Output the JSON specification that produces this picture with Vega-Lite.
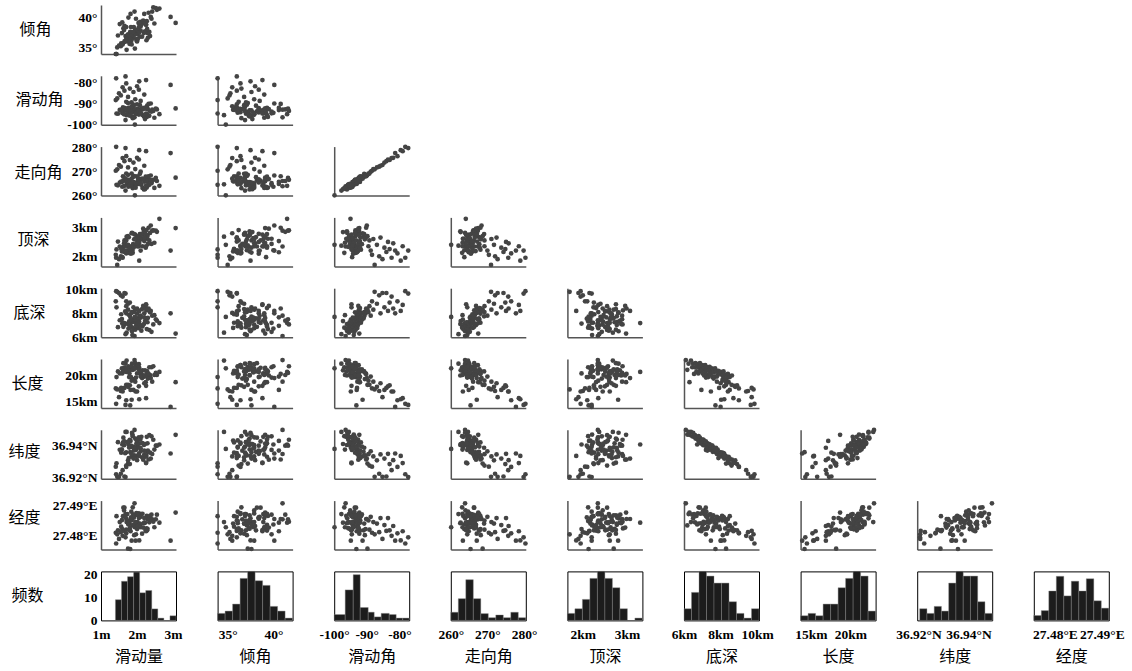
{
  "$schema": "https://vega.github.io/schema/vega-lite/v6.json",
  "background": "white",
  "padding": {"left": 7, "top": 5, "right": 5, "bottom": 4},
  "bounds": "flush",
  "columns": 9,
  "spacing": {"row": 21.8, "column": 41.6},
  "config": {
    "view": {"stroke": null},
    "axis": {
      "grid": false, "ticks": false, "labels": false,
      "domainColor": "#555", "domainWidth": 1.5,
      "labelFont": "Liberation Serif", "labelFontWeight": "bold", "labelFontSize": 13.5, "labelColor": "#000",
      "labelFlush": false, "labelOverlap": false, "labelBound": false, "labelPadding": 4,
      "titleFont": "Noto Sans CJK SC", "titleFontWeight": "normal", "titleFontSize": 16, "titleColor": "#000"
    },
    "point": {"filled": true, "color": "#444", "size": 22, "opacity": 1}
  },
  "datasets": {
    "s": [
      {"slip":1.93,"dip":41.0,"rake":-96.5,"strike":263.9,"top":2.34,"bottom":6.10,"len":23.0,"lat":36.9494,"lon":27.4906},
      {"slip":1.87,"dip":37.1,"rake":-94.0,"strike":264.5,"top":2.21,"bottom":6.18,"len":21.1,"lat":36.9466,"lon":27.4834},
      {"slip":1.68,"dip":36.9,"rake":-97.8,"strike":262.1,"top":2.37,"bottom":6.25,"len":22.3,"lat":36.9482,"lon":27.4871},
      {"slip":3.07,"dip":39.1,"rake":-92.3,"strike":267.5,"top":2.98,"bottom":6.30,"len":18.7,"lat":36.9464,"lon":27.4876},
      {"slip":1.71,"dip":34.6,"rake":-95.5,"strike":264.7,"top":2.68,"bottom":6.38,"len":22.9,"lat":36.9482,"lon":27.4845},
      {"slip":2.40,"dip":39.8,"rake":-93.8,"strike":265.2,"top":2.43,"bottom":6.45,"len":21.6,"lat":36.9455,"lon":27.4869},
      {"slip":1.86,"dip":37.5,"rake":-96.0,"strike":263.9,"top":2.81,"bottom":6.50,"len":22.3,"lat":36.9477,"lon":27.4857},
      {"slip":2.12,"dip":38.9,"rake":-94.6,"strike":264.5,"top":2.59,"bottom":6.55,"len":20.3,"lat":36.9452,"lon":27.4871},
      {"slip":2.34,"dip":37.6,"rake":-95.8,"strike":264.5,"top":2.55,"bottom":6.60,"len":21.6,"lat":36.9462,"lon":27.4844},
      {"slip":1.95,"dip":37.4,"rake":-93.4,"strike":265.0,"top":2.75,"bottom":6.63,"len":22.4,"lat":36.9441,"lon":27.4867},
      {"slip":2.27,"dip":39.4,"rake":-96.3,"strike":263.4,"top":2.61,"bottom":6.68,"len":20.8,"lat":36.9452,"lon":27.4865},
      {"slip":1.76,"dip":40.0,"rake":-94.4,"strike":263.7,"top":2.21,"bottom":6.72,"len":21.8,"lat":36.9405,"lon":27.4837},
      {"slip":2.05,"dip":37.9,"rake":-95.2,"strike":264.9,"top":2.35,"bottom":6.75,"len":22.2,"lat":36.9449,"lon":27.4873},
      {"slip":1.79,"dip":35.6,"rake":-92.9,"strike":266.0,"top":2.17,"bottom":6.78,"len":20.4,"lat":36.9429,"lon":27.4840},
      {"slip":1.88,"dip":36.5,"rake":-96.9,"strike":263.1,"top":2.12,"bottom":6.80,"len":21.6,"lat":36.9456,"lon":27.4893},
      {"slip":1.47,"dip":37.0,"rake":-94.8,"strike":264.3,"top":2.51,"bottom":6.84,"len":20.8,"lat":36.9419,"lon":27.4818},
      {"slip":1.62,"dip":38.2,"rake":-93.7,"strike":266.4,"top":2.34,"bottom":6.87,"len":22.4,"lat":36.9447,"lon":27.4892},
      {"slip":2.15,"dip":39.3,"rake":-95.4,"strike":263.2,"top":2.35,"bottom":6.90,"len":21.0,"lat":36.9413,"lon":27.4872},
      {"slip":1.99,"dip":36.1,"rake":-94.3,"strike":265.2,"top":2.57,"bottom":6.92,"len":21.8,"lat":36.9430,"lon":27.4841},
      {"slip":1.82,"dip":40.6,"rake":-93.1,"strike":264.9,"top":2.14,"bottom":6.95,"len":17.2,"lat":36.9427,"lon":27.4815},
      {"slip":1.80,"dip":37.3,"rake":-95.7,"strike":264.5,"top":2.33,"bottom":6.98,"len":21.1,"lat":36.9434,"lon":27.4825},
      {"slip":1.98,"dip":36.4,"rake":-94.1,"strike":264.9,"top":2.37,"bottom":7.00,"len":22.0,"lat":36.9409,"lon":27.4874},
      {"slip":2.09,"dip":39.3,"rake":-92.7,"strike":266.9,"top":2.77,"bottom":7.02,"len":20.4,"lat":36.9435,"lon":27.4836},
      {"slip":1.64,"dip":37.9,"rake":-95.1,"strike":264.0,"top":2.45,"bottom":7.05,"len":21.4,"lat":36.9401,"lon":27.4883},
      {"slip":2.45,"dip":41.7,"rake":-93.5,"strike":266.6,"top":2.90,"bottom":7.07,"len":21.8,"lat":36.9434,"lon":27.4846},
      {"slip":2.19,"dip":37.4,"rake":-96.1,"strike":262.6,"top":2.87,"bottom":7.10,"len":20.0,"lat":36.9402,"lon":27.4841},
      {"slip":1.73,"dip":37.0,"rake":-93.9,"strike":265.6,"top":2.34,"bottom":7.12,"len":21.3,"lat":36.9420,"lon":27.4871},
      {"slip":1.59,"dip":39.2,"rake":-94.5,"strike":263.7,"top":1.97,"bottom":7.14,"len":20.4,"lat":36.9405,"lon":27.4822},
      {"slip":2.02,"dip":36.4,"rake":-92.5,"strike":267.4,"top":2.34,"bottom":7.16,"len":22.0,"lat":36.9416,"lon":27.4871},
      {"slip":2.62,"dip":41.5,"rake":-95.0,"strike":264.1,"top":3.30,"bottom":7.18,"len":20.7,"lat":36.9405,"lon":27.4843},
      {"slip":1.65,"dip":38.6,"rake":-93.3,"strike":266.3,"top":2.55,"bottom":7.19,"len":21.5,"lat":36.9424,"lon":27.4892},
      {"slip":1.97,"dip":39.8,"rake":-94.6,"strike":264.5,"top":2.61,"bottom":7.20,"len":19.6,"lat":36.9372,"lon":27.4805},
      {"slip":1.61,"dip":35.7,"rake":-91.8,"strike":268.1,"top":2.23,"bottom":7.21,"len":20.9,"lat":36.9418,"lon":27.4864},
      {"slip":1.84,"dip":36.1,"rake":-93.8,"strike":264.7,"top":2.20,"bottom":7.22,"len":21.7,"lat":36.9391,"lon":27.4879},
      {"slip":2.29,"dip":37.4,"rake":-95.3,"strike":264.3,"top":2.72,"bottom":7.25,"len":20.1,"lat":36.9412,"lon":27.4823},
      {"slip":1.91,"dip":38.4,"rake":-92.2,"strike":265.7,"top":2.78,"bottom":7.28,"len":21.2,"lat":36.9368,"lon":27.4859},
      {"slip":2.06,"dip":39.1,"rake":-94.0,"strike":266.0,"top":2.46,"bottom":7.30,"len":21.5,"lat":36.9411,"lon":27.4829},
      {"slip":1.78,"dip":36.1,"rake":-93.6,"strike":265.4,"top":2.12,"bottom":7.32,"len":19.7,"lat":36.9386,"lon":27.4848},
      {"slip":2.22,"dip":37.7,"rake":-97.3,"strike":262.7,"top":2.84,"bottom":7.35,"len":21.0,"lat":36.9408,"lon":27.4843},
      {"slip":2.55,"dip":41.3,"rake":-92.8,"strike":266.1,"top":2.85,"bottom":7.38,"len":20.1,"lat":36.9398,"lon":27.4869},
      {"slip":2.01,"dip":37.2,"rake":-94.4,"strike":265.7,"top":2.38,"bottom":7.40,"len":21.7,"lat":36.9406,"lon":27.4845},
      {"slip":1.52,"dip":38.9,"rake":-93.0,"strike":265.4,"top":2.34,"bottom":7.42,"len":20.4,"lat":36.9373,"lon":27.4845},
      {"slip":1.89,"dip":36.9,"rake":-91.5,"strike":267.8,"top":2.42,"bottom":7.45,"len":21.2,"lat":36.9392,"lon":27.4870},
      {"slip":1.96,"dip":37.9,"rake":-94.9,"strike":263.3,"top":2.61,"bottom":7.47,"len":16.9,"lat":36.9385,"lon":27.4784},
      {"slip":2.52,"dip":41.6,"rake":-92.4,"strike":267.4,"top":2.89,"bottom":7.50,"len":20.5,"lat":36.9398,"lon":27.4854},
      {"slip":1.58,"dip":37.4,"rake":-93.2,"strike":265.7,"top":2.17,"bottom":7.52,"len":21.4,"lat":36.9375,"lon":27.4851},
      {"slip":1.83,"dip":38.4,"rake":-94.2,"strike":265.5,"top":2.09,"bottom":7.55,"len":19.7,"lat":36.9398,"lon":27.4860},
      {"slip":2.28,"dip":38.1,"rake":-91.0,"strike":267.7,"top":2.67,"bottom":7.57,"len":20.8,"lat":36.9360,"lon":27.4818},
      {"slip":2.04,"dip":39.1,"rake":-93.5,"strike":266.6,"top":2.70,"bottom":7.60,"len":21.2,"lat":36.9387,"lon":27.4867},
      {"slip":2.30,"dip":36.6,"rake":-92.6,"strike":265.8,"top":2.43,"bottom":7.62,"len":19.4,"lat":36.9367,"lon":27.4854},
      {"slip":2.10,"dip":37.8,"rake":-94.3,"strike":265.2,"top":2.63,"bottom":7.63,"len":20.6,"lat":36.9381,"lon":27.4828},
      {"slip":2.20,"dip":40.6,"rake":-92.1,"strike":265.8,"top":2.53,"bottom":7.66,"len":19.8,"lat":36.9368,"lon":27.4843},
      {"slip":1.94,"dip":34.8,"rake":-99.9,"strike":260.1,"top":2.40,"bottom":7.70,"len":21.4,"lat":36.9378,"lon":27.4828},
      {"slip":1.81,"dip":37.6,"rake":-93.2,"strike":265.4,"top":2.13,"bottom":7.72,"len":14.2,"lat":36.9358,"lon":27.4757},
      {"slip":2.08,"dip":36.8,"rake":-90.8,"strike":269.1,"top":2.77,"bottom":7.75,"len":20.8,"lat":36.9385,"lon":27.4840},
      {"slip":2.42,"dip":41.0,"rake":-92.9,"strike":266.1,"top":2.89,"bottom":7.80,"len":18.8,"lat":36.9347,"lon":27.4854},
      {"slip":2.48,"dip":39.0,"rake":-96.7,"strike":263.2,"top":2.47,"bottom":7.84,"len":20.1,"lat":36.9374,"lon":27.4828},
      {"slip":1.77,"dip":36.0,"rake":-92.0,"strike":266.6,"top":2.66,"bottom":7.88,"len":20.9,"lat":36.9322,"lon":27.4850},
      {"slip":1.56,"dip":35.7,"rake":-93.0,"strike":265.9,"top":2.26,"bottom":7.92,"len":17.6,"lat":36.9355,"lon":27.4830},
      {"slip":2.00,"dip":36.0,"rake":-90.4,"strike":268.1,"top":2.63,"bottom":7.96,"len":20.4,"lat":36.9336,"lon":27.4822},
      {"slip":1.70,"dip":38.4,"rake":-92.7,"strike":266.8,"top":2.18,"bottom":8.00,"len":20.7,"lat":36.9357,"lon":27.4856},
      {"slip":1.85,"dip":35.5,"rake":-91.3,"strike":267.1,"top":2.80,"bottom":8.03,"len":15.3,"lat":36.9332,"lon":27.4784},
      {"slip":2.36,"dip":36.9,"rake":-93.6,"strike":266.6,"top":2.81,"bottom":8.08,"len":20.1,"lat":36.9355,"lon":27.4865},
      {"slip":1.92,"dip":37.1,"rake":-90.6,"strike":268.2,"top":2.59,"bottom":8.12,"len":19.3,"lat":36.9338,"lon":27.4802},
      {"slip":1.67,"dip":36.0,"rake":-92.2,"strike":267.2,"top":2.51,"bottom":8.16,"len":20.8,"lat":36.9352,"lon":27.4862},
      {"slip":2.38,"dip":40.1,"rake":-90.0,"strike":268.4,"top":3.07,"bottom":8.20,"len":19.5,"lat":36.9319,"lon":27.4855},
      {"slip":2.26,"dip":36.2,"rake":-92.5,"strike":266.4,"top":2.91,"bottom":8.25,"len":20.2,"lat":36.9335,"lon":27.4824},
      {"slip":1.75,"dip":37.2,"rake":-89.8,"strike":268.7,"top":2.70,"bottom":8.30,"len":18.2,"lat":36.9288,"lon":27.4758},
      {"slip":2.14,"dip":36.8,"rake":-92.3,"strike":267.1,"top":2.75,"bottom":8.35,"len":19.5,"lat":36.9327,"lon":27.4807},
      {"slip":2.32,"dip":40.8,"rake":-90.2,"strike":268.1,"top":2.99,"bottom":8.40,"len":20.3,"lat":36.9313,"lon":27.4855},
      {"slip":2.24,"dip":39.3,"rake":-92.1,"strike":267.9,"top":2.30,"bottom":8.44,"len":18.7,"lat":36.9330,"lon":27.4817},
      {"slip":1.43,"dip":33.9,"rake":-94.7,"strike":264.5,"top":2.24,"bottom":8.50,"len":19.7,"lat":36.9290,"lon":27.4864},
      {"slip":2.17,"dip":39.5,"rake":-92.6,"strike":266.9,"top":2.96,"bottom":8.62,"len":20.0,"lat":36.9312,"lon":27.4827},
      {"slip":2.25,"dip":38.8,"rake":-94.7,"strike":264.2,"top":2.75,"bottom":8.75,"len":18.0,"lat":36.9294,"lon":27.4819},
      {"slip":1.85,"dip":37.0,"rake":-89.5,"strike":269.2,"top":2.35,"bottom":8.10,"len":19.0,"lat":36.9346,"lon":27.4850},
      {"slip":1.70,"dip":36.2,"rake":-89.2,"strike":269.2,"top":2.55,"bottom":8.60,"len":18.2,"lat":36.9276,"lon":27.4820},
      {"slip":2.10,"dip":38.5,"rake":-88.8,"strike":270.0,"top":2.20,"bottom":7.80,"len":19.8,"lat":36.9363,"lon":27.4862},
      {"slip":1.41,"dip":33.9,"rake":-88.4,"strike":270.4,"top":2.05,"bottom":9.00,"len":17.5,"lat":36.9269,"lon":27.4810},
      {"slip":1.95,"dip":37.9,"rake":-88.0,"strike":271.1,"top":2.60,"bottom":8.30,"len":18.8,"lat":36.9332,"lon":27.4845},
      {"slip":1.45,"dip":35.0,"rake":-87.6,"strike":271.0,"top":1.70,"bottom":9.80,"len":17.3,"lat":36.9207,"lon":27.4805},
      {"slip":1.75,"dip":36.8,"rake":-86.9,"strike":271.8,"top":2.40,"bottom":8.80,"len":17.8,"lat":36.9308,"lon":27.4840},
      {"slip":1.55,"dip":35.2,"rake":-86.2,"strike":272.1,"top":2.00,"bottom":9.50,"len":17.0,"lat":36.9226,"lon":27.4812},
      {"slip":2.20,"dip":39.0,"rake":-85.8,"strike":272.5,"top":2.65,"bottom":8.00,"len":18.5,"lat":36.9344,"lon":27.4858},
      {"slip":1.50,"dip":35.3,"rake":-85.2,"strike":272.8,"top":1.90,"bottom":9.70,"len":15.8,"lat":36.9207,"lon":27.4790},
      {"slip":1.90,"dip":37.6,"rake":-84.6,"strike":273.8,"top":2.30,"bottom":8.50,"len":17.2,"lat":36.9319,"lon":27.4835},
      {"slip":1.65,"dip":36.0,"rake":-84.0,"strike":274.4,"top":2.15,"bottom":9.70,"len":17.6,"lat":36.9209,"lon":27.4816},
      {"slip":2.05,"dip":38.4,"rake":-83.5,"strike":275.1,"top":2.50,"bottom":8.20,"len":17.9,"lat":36.9348,"lon":27.4858},
      {"slip":1.80,"dip":36.5,"rake":-83.0,"strike":274.9,"top":2.25,"bottom":8.90,"len":18.1,"lat":36.9285,"lon":27.4818},
      {"slip":1.60,"dip":35.5,"rake":-82.4,"strike":275.7,"top":1.95,"bottom":9.40,"len":16.9,"lat":36.9248,"lon":27.4800},
      {"slip":2.00,"dip":38.0,"rake":-81.9,"strike":275.8,"top":2.45,"bottom":8.40,"len":16.9,"lat":36.9309,"lon":27.4832},
      {"slip":2.93,"dip":40.1,"rake":-81.3,"strike":277.8,"top":2.20,"bottom":8.00,"len":13.9,"lat":36.9350,"lon":27.4784},
      {"slip":1.70,"dip":36.4,"rake":-80.6,"strike":276.5,"top":2.10,"bottom":9.00,"len":15.2,"lat":36.9268,"lon":27.4808},
      {"slip":2.06,"dip":37.5,"rake":-79.6,"strike":279.0,"top":1.85,"bottom":8.20,"len":15.4,"lat":36.9335,"lon":27.4785},
      {"slip":2.25,"dip":38.8,"rake":-79.0,"strike":278.6,"top":2.35,"bottom":8.70,"len":15.6,"lat":36.9291,"lon":27.4815},
      {"slip":1.42,"dip":33.9,"rake":-78.2,"strike":280.4,"top":1.95,"bottom":9.85,"len":14.5,"lat":36.9223,"lon":27.4775},
      {"slip":1.68,"dip":36.0,"rake":-77.3,"strike":279.9,"top":2.20,"bottom":9.65,"len":14.3,"lat":36.9206,"lon":27.4795}
    ],
    "h": [
      {"v":"slip","x0":1.400,"x1":1.568,"n":9},{"v":"slip","x0":1.568,"x1":1.736,"n":17},{"v":"slip","x0":1.736,"x1":1.904,"n":19},{"v":"slip","x0":1.904,"x1":2.072,"n":21},{"v":"slip","x0":2.072,"x1":2.240,"n":12},{"v":"slip","x0":2.240,"x1":2.408,"n":13},{"v":"slip","x0":2.408,"x1":2.576,"n":5},{"v":"slip","x0":2.576,"x1":2.744,"n":1},{"v":"slip","x0":2.912,"x1":3.080,"n":2},
      {"v":"dip","x0":33.90,"x1":34.72,"n":3},{"v":"dip","x0":34.72,"x1":35.54,"n":4},{"v":"dip","x0":35.54,"x1":36.36,"n":7},{"v":"dip","x0":36.36,"x1":37.18,"n":18},{"v":"dip","x0":37.18,"x1":38.00,"n":21},{"v":"dip","x0":38.00,"x1":38.82,"n":17},{"v":"dip","x0":38.82,"x1":39.64,"n":15},{"v":"dip","x0":39.64,"x1":40.46,"n":6},{"v":"dip","x0":40.46,"x1":41.28,"n":4},{"v":"dip","x0":41.28,"x1":42.10,"n":1},
      {"v":"rake","x0":-100.0,"x1":-96.63,"n":5},{"v":"rake","x0":-96.63,"x1":-94.17,"n":26},{"v":"rake","x0":-94.17,"x1":-92.03,"n":39},{"v":"rake","x0":-92.03,"x1":-89.57,"n":11},{"v":"rake","x0":-89.57,"x1":-87.73,"n":7},{"v":"rake","x0":-87.73,"x1":-85.59,"n":3},{"v":"rake","x0":-85.59,"x1":-83.13,"n":6},{"v":"rake","x0":-83.13,"x1":-80.99,"n":5},{"v":"rake","x0":-80.99,"x1":-78.99,"n":2},{"v":"rake","x0":-78.99,"x1":-77.0,"n":2},
      {"v":"strike","x0":260.0,"x1":262.05,"n":6},{"v":"strike","x0":262.05,"x1":264.1,"n":16},{"v":"strike","x0":264.1,"x1":266.15,"n":30},{"v":"strike","x0":266.15,"x1":268.2,"n":16},{"v":"strike","x0":268.2,"x1":270.25,"n":5},{"v":"strike","x0":270.25,"x1":272.3,"n":2},{"v":"strike","x0":272.3,"x1":274.35,"n":4},{"v":"strike","x0":274.35,"x1":276.4,"n":2},{"v":"strike","x0":276.4,"x1":278.45,"n":6},{"v":"strike","x0":278.45,"x1":280.5,"n":2},
      {"v":"top","x0":1.65,"x1":1.82,"n":3},{"v":"top","x0":1.82,"x1":1.99,"n":5},{"v":"top","x0":1.99,"x1":2.16,"n":9},{"v":"top","x0":2.16,"x1":2.33,"n":18},{"v":"top","x0":2.33,"x1":2.50,"n":21},{"v":"top","x0":2.50,"x1":2.67,"n":18},{"v":"top","x0":2.67,"x1":2.84,"n":14},{"v":"top","x0":2.84,"x1":3.01,"n":5},{"v":"top","x0":3.18,"x1":3.35,"n":1},
      {"v":"bottom","x0":6.00,"x1":6.41,"n":5},{"v":"bottom","x0":6.41,"x1":6.82,"n":12},{"v":"bottom","x0":6.82,"x1":7.23,"n":21},{"v":"bottom","x0":7.23,"x1":7.64,"n":19},{"v":"bottom","x0":7.64,"x1":8.05,"n":16},{"v":"bottom","x0":8.05,"x1":8.46,"n":16},{"v":"bottom","x0":8.46,"x1":8.87,"n":8},{"v":"bottom","x0":8.87,"x1":9.28,"n":3},{"v":"bottom","x0":9.28,"x1":9.69,"n":1},{"v":"bottom","x0":9.69,"x1":10.10,"n":5},
      {"v":"len","x0":13.70,"x1":14.65,"n":2},{"v":"len","x0":14.65,"x1":15.60,"n":3},{"v":"len","x0":15.60,"x1":16.55,"n":2},{"v":"len","x0":16.55,"x1":17.50,"n":7},{"v":"len","x0":17.50,"x1":18.45,"n":7},{"v":"len","x0":18.45,"x1":19.40,"n":14},{"v":"len","x0":19.40,"x1":20.35,"n":18},{"v":"len","x0":20.35,"x1":21.30,"n":21},{"v":"len","x0":21.30,"x1":22.25,"n":19},{"v":"len","x0":22.25,"x1":23.20,"n":4},
      {"v":"lat","x0":36.9205,"x1":36.9234,"n":5},{"v":"lat","x0":36.9234,"x1":36.9263,"n":3},{"v":"lat","x0":36.9263,"x1":36.9292,"n":6},{"v":"lat","x0":36.9292,"x1":36.9321,"n":4},{"v":"lat","x0":36.9321,"x1":36.9350,"n":16},{"v":"lat","x0":36.9350,"x1":36.9379,"n":21},{"v":"lat","x0":36.9379,"x1":36.9408,"n":19},{"v":"lat","x0":36.9408,"x1":36.9437,"n":19},{"v":"lat","x0":36.9437,"x1":36.9466,"n":8},{"v":"lat","x0":36.9466,"x1":36.9495,"n":3},
      {"v":"lon","x0":27.4755,"x1":27.4771,"n":2},{"v":"lon","x0":27.4771,"x1":27.4787,"n":4},{"v":"lon","x0":27.4787,"x1":27.4803,"n":12},{"v":"lon","x0":27.4803,"x1":27.4819,"n":18},{"v":"lon","x0":27.4819,"x1":27.4835,"n":10},{"v":"lon","x0":27.4835,"x1":27.4851,"n":16},{"v":"lon","x0":27.4851,"x1":27.4867,"n":12},{"v":"lon","x0":27.4867,"x1":27.4883,"n":17},{"v":"lon","x0":27.4883,"x1":27.4899,"n":8},{"v":"lon","x0":27.4899,"x1":27.4915,"n":5}
    ]
  },
  "concat": [
    {"width":75,"height":49,"data":{"name":"s"},"mark":"point","encoding":{"x":{"field":"slip","type":"quantitative","scale":{"domain":[1.0,3.08],"nice":false,"zero":false},"axis":{"title":null}},"y":{"field":"dip","type":"quantitative","scale":{"domain":[33.9,42.1],"nice":false,"zero":false},"axis":{"labels":true,"values":[35,40],"labelExpr":"datum.value + '°'","title":"倾角","titleAngle":0,"titleX":-66,"titleY":24,"titleAlign":"center","titleBaseline":"middle"}}}},
    {"width":75,"height":49,"data":{"values":[]},"mark":"point","encoding":{}},
    {"width":75,"height":49,"data":{"values":[]},"mark":"point","encoding":{}},
    {"width":75,"height":49,"data":{"values":[]},"mark":"point","encoding":{}},
    {"width":75,"height":49,"data":{"values":[]},"mark":"point","encoding":{}},
    {"width":75,"height":49,"data":{"values":[]},"mark":"point","encoding":{}},
    {"width":75,"height":49,"data":{"values":[]},"mark":"point","encoding":{}},
    {"width":75,"height":49,"data":{"values":[]},"mark":"point","encoding":{}},
    {"width":75,"height":49,"data":{"values":[]},"mark":"point","encoding":{}},

    {"width":75,"height":49,"data":{"name":"s"},"mark":"point","encoding":{"x":{"field":"slip","type":"quantitative","scale":{"domain":[1.0,3.08],"nice":false,"zero":false},"axis":{"title":null}},"y":{"field":"rake","type":"quantitative","scale":{"domain":[-100,-77],"nice":false,"zero":false},"axis":{"labels":true,"values":[-100,-90,-80],"labelExpr":"datum.value + '°'","title":"滑动角","titleAngle":0,"titleX":-62,"titleY":24,"titleAlign":"center","titleBaseline":"middle"}}}},
    {"width":75,"height":49,"data":{"name":"s"},"mark":"point","encoding":{"x":{"field":"dip","type":"quantitative","scale":{"domain":[33.9,42.1],"nice":false,"zero":false},"axis":{"title":null}},"y":{"field":"rake","type":"quantitative","scale":{"domain":[-100,-77],"nice":false,"zero":false},"axis":{"title":null}}}},
    {"width":75,"height":49,"data":{"values":[]},"mark":"point","encoding":{}},
    {"width":75,"height":49,"data":{"values":[]},"mark":"point","encoding":{}},
    {"width":75,"height":49,"data":{"values":[]},"mark":"point","encoding":{}},
    {"width":75,"height":49,"data":{"values":[]},"mark":"point","encoding":{}},
    {"width":75,"height":49,"data":{"values":[]},"mark":"point","encoding":{}},
    {"width":75,"height":49,"data":{"values":[]},"mark":"point","encoding":{}},
    {"width":75,"height":49,"data":{"values":[]},"mark":"point","encoding":{}},

    {"width":75,"height":49,"data":{"name":"s"},"mark":"point","encoding":{"x":{"field":"slip","type":"quantitative","scale":{"domain":[1.0,3.08],"nice":false,"zero":false},"axis":{"title":null}},"y":{"field":"strike","type":"quantitative","scale":{"domain":[260,280.5],"nice":false,"zero":false},"axis":{"labels":true,"values":[260,270,280],"labelExpr":"datum.value + '°'","title":"走向角","titleAngle":0,"titleX":-63,"titleY":26,"titleAlign":"center","titleBaseline":"middle"}}}},
    {"width":75,"height":49,"data":{"name":"s"},"mark":"point","encoding":{"x":{"field":"dip","type":"quantitative","scale":{"domain":[33.9,42.1],"nice":false,"zero":false},"axis":{"title":null}},"y":{"field":"strike","type":"quantitative","scale":{"domain":[260,280.5],"nice":false,"zero":false},"axis":{"title":null}}}},
    {"width":75,"height":49,"data":{"name":"s"},"mark":"point","encoding":{"x":{"field":"rake","type":"quantitative","scale":{"domain":[-100,-77],"nice":false,"zero":false},"axis":{"title":null}},"y":{"field":"strike","type":"quantitative","scale":{"domain":[260,280.5],"nice":false,"zero":false},"axis":{"title":null}}}},
    {"width":75,"height":49,"data":{"values":[]},"mark":"point","encoding":{}},
    {"width":75,"height":49,"data":{"values":[]},"mark":"point","encoding":{}},
    {"width":75,"height":49,"data":{"values":[]},"mark":"point","encoding":{}},
    {"width":75,"height":49,"data":{"values":[]},"mark":"point","encoding":{}},
    {"width":75,"height":49,"data":{"values":[]},"mark":"point","encoding":{}},
    {"width":75,"height":49,"data":{"values":[]},"mark":"point","encoding":{}},

    {"width":75,"height":49,"data":{"name":"s"},"mark":"point","encoding":{"x":{"field":"slip","type":"quantitative","scale":{"domain":[1.0,3.08],"nice":false,"zero":false},"axis":{"title":null}},"y":{"field":"top","type":"quantitative","scale":{"domain":[1.65,3.35],"nice":false,"zero":false},"axis":{"labels":true,"values":[2,3],"labelExpr":"datum.value + 'km'","title":"顶深","titleAngle":0,"titleX":-68,"titleY":22,"titleAlign":"center","titleBaseline":"middle"}}}},
    {"width":75,"height":49,"data":{"name":"s"},"mark":"point","encoding":{"x":{"field":"dip","type":"quantitative","scale":{"domain":[33.9,42.1],"nice":false,"zero":false},"axis":{"title":null}},"y":{"field":"top","type":"quantitative","scale":{"domain":[1.65,3.35],"nice":false,"zero":false},"axis":{"title":null}}}},
    {"width":75,"height":49,"data":{"name":"s"},"mark":"point","encoding":{"x":{"field":"rake","type":"quantitative","scale":{"domain":[-100,-77],"nice":false,"zero":false},"axis":{"title":null}},"y":{"field":"top","type":"quantitative","scale":{"domain":[1.65,3.35],"nice":false,"zero":false},"axis":{"title":null}}}},
    {"width":75,"height":49,"data":{"name":"s"},"mark":"point","encoding":{"x":{"field":"strike","type":"quantitative","scale":{"domain":[260,280.5],"nice":false,"zero":false},"axis":{"title":null}},"y":{"field":"top","type":"quantitative","scale":{"domain":[1.65,3.35],"nice":false,"zero":false},"axis":{"title":null}}}},
    {"width":75,"height":49,"data":{"values":[]},"mark":"point","encoding":{}},
    {"width":75,"height":49,"data":{"values":[]},"mark":"point","encoding":{}},
    {"width":75,"height":49,"data":{"values":[]},"mark":"point","encoding":{}},
    {"width":75,"height":49,"data":{"values":[]},"mark":"point","encoding":{}},
    {"width":75,"height":49,"data":{"values":[]},"mark":"point","encoding":{}},

    {"width":75,"height":49,"data":{"name":"s"},"mark":"point","encoding":{"x":{"field":"slip","type":"quantitative","scale":{"domain":[1.0,3.08],"nice":false,"zero":false},"axis":{"title":null}},"y":{"field":"bottom","type":"quantitative","scale":{"domain":[6,10.1],"nice":false,"zero":false},"axis":{"labels":true,"values":[6,8,10],"labelExpr":"datum.value + 'km'","title":"底深","titleAngle":0,"titleX":-72,"titleY":24,"titleAlign":"center","titleBaseline":"middle"}}}},
    {"width":75,"height":49,"data":{"name":"s"},"mark":"point","encoding":{"x":{"field":"dip","type":"quantitative","scale":{"domain":[33.9,42.1],"nice":false,"zero":false},"axis":{"title":null}},"y":{"field":"bottom","type":"quantitative","scale":{"domain":[6,10.1],"nice":false,"zero":false},"axis":{"title":null}}}},
    {"width":75,"height":49,"data":{"name":"s"},"mark":"point","encoding":{"x":{"field":"rake","type":"quantitative","scale":{"domain":[-100,-77],"nice":false,"zero":false},"axis":{"title":null}},"y":{"field":"bottom","type":"quantitative","scale":{"domain":[6,10.1],"nice":false,"zero":false},"axis":{"title":null}}}},
    {"width":75,"height":49,"data":{"name":"s"},"mark":"point","encoding":{"x":{"field":"strike","type":"quantitative","scale":{"domain":[260,280.5],"nice":false,"zero":false},"axis":{"title":null}},"y":{"field":"bottom","type":"quantitative","scale":{"domain":[6,10.1],"nice":false,"zero":false},"axis":{"title":null}}}},
    {"width":75,"height":49,"data":{"name":"s"},"mark":"point","encoding":{"x":{"field":"top","type":"quantitative","scale":{"domain":[1.65,3.35],"nice":false,"zero":false},"axis":{"title":null}},"y":{"field":"bottom","type":"quantitative","scale":{"domain":[6,10.1],"nice":false,"zero":false},"axis":{"title":null}}}},
    {"width":75,"height":49,"data":{"values":[]},"mark":"point","encoding":{}},
    {"width":75,"height":49,"data":{"values":[]},"mark":"point","encoding":{}},
    {"width":75,"height":49,"data":{"values":[]},"mark":"point","encoding":{}},
    {"width":75,"height":49,"data":{"values":[]},"mark":"point","encoding":{}},

    {"width":75,"height":49,"data":{"name":"s"},"mark":"point","encoding":{"x":{"field":"slip","type":"quantitative","scale":{"domain":[1.0,3.08],"nice":false,"zero":false},"axis":{"title":null}},"y":{"field":"len","type":"quantitative","scale":{"domain":[13.7,23.2],"nice":false,"zero":false},"axis":{"labels":true,"values":[15,20],"labelExpr":"datum.value + 'km'","title":"长度","titleAngle":0,"titleX":-74,"titleY":24,"titleAlign":"center","titleBaseline":"middle"}}}},
    {"width":75,"height":49,"data":{"name":"s"},"mark":"point","encoding":{"x":{"field":"dip","type":"quantitative","scale":{"domain":[33.9,42.1],"nice":false,"zero":false},"axis":{"title":null}},"y":{"field":"len","type":"quantitative","scale":{"domain":[13.7,23.2],"nice":false,"zero":false},"axis":{"title":null}}}},
    {"width":75,"height":49,"data":{"name":"s"},"mark":"point","encoding":{"x":{"field":"rake","type":"quantitative","scale":{"domain":[-100,-77],"nice":false,"zero":false},"axis":{"title":null}},"y":{"field":"len","type":"quantitative","scale":{"domain":[13.7,23.2],"nice":false,"zero":false},"axis":{"title":null}}}},
    {"width":75,"height":49,"data":{"name":"s"},"mark":"point","encoding":{"x":{"field":"strike","type":"quantitative","scale":{"domain":[260,280.5],"nice":false,"zero":false},"axis":{"title":null}},"y":{"field":"len","type":"quantitative","scale":{"domain":[13.7,23.2],"nice":false,"zero":false},"axis":{"title":null}}}},
    {"width":75,"height":49,"data":{"name":"s"},"mark":"point","encoding":{"x":{"field":"top","type":"quantitative","scale":{"domain":[1.65,3.35],"nice":false,"zero":false},"axis":{"title":null}},"y":{"field":"len","type":"quantitative","scale":{"domain":[13.7,23.2],"nice":false,"zero":false},"axis":{"title":null}}}},
    {"width":75,"height":49,"data":{"name":"s"},"mark":"point","encoding":{"x":{"field":"bottom","type":"quantitative","scale":{"domain":[6,10.1],"nice":false,"zero":false},"axis":{"title":null}},"y":{"field":"len","type":"quantitative","scale":{"domain":[13.7,23.2],"nice":false,"zero":false},"axis":{"title":null}}}},
    {"width":75,"height":49,"data":{"values":[]},"mark":"point","encoding":{}},
    {"width":75,"height":49,"data":{"values":[]},"mark":"point","encoding":{}},
    {"width":75,"height":49,"data":{"values":[]},"mark":"point","encoding":{}},

    {"width":75,"height":49,"data":{"name":"s"},"mark":"point","encoding":{"x":{"field":"slip","type":"quantitative","scale":{"domain":[1.0,3.08],"nice":false,"zero":false},"axis":{"title":null}},"y":{"field":"lat","type":"quantitative","scale":{"domain":[36.9195,36.9495],"nice":false,"zero":false},"axis":{"labels":true,"values":[36.92,36.94],"labelExpr":"format(datum.value, '.2f') + '°N'","title":"纬度","titleAngle":0,"titleX":-77,"titleY":22,"titleAlign":"center","titleBaseline":"middle"}}}},
    {"width":75,"height":49,"data":{"name":"s"},"mark":"point","encoding":{"x":{"field":"dip","type":"quantitative","scale":{"domain":[33.9,42.1],"nice":false,"zero":false},"axis":{"title":null}},"y":{"field":"lat","type":"quantitative","scale":{"domain":[36.9195,36.9495],"nice":false,"zero":false},"axis":{"title":null}}}},
    {"width":75,"height":49,"data":{"name":"s"},"mark":"point","encoding":{"x":{"field":"rake","type":"quantitative","scale":{"domain":[-100,-77],"nice":false,"zero":false},"axis":{"title":null}},"y":{"field":"lat","type":"quantitative","scale":{"domain":[36.9195,36.9495],"nice":false,"zero":false},"axis":{"title":null}}}},
    {"width":75,"height":49,"data":{"name":"s"},"mark":"point","encoding":{"x":{"field":"strike","type":"quantitative","scale":{"domain":[260,280.5],"nice":false,"zero":false},"axis":{"title":null}},"y":{"field":"lat","type":"quantitative","scale":{"domain":[36.9195,36.9495],"nice":false,"zero":false},"axis":{"title":null}}}},
    {"width":75,"height":49,"data":{"name":"s"},"mark":"point","encoding":{"x":{"field":"top","type":"quantitative","scale":{"domain":[1.65,3.35],"nice":false,"zero":false},"axis":{"title":null}},"y":{"field":"lat","type":"quantitative","scale":{"domain":[36.9195,36.9495],"nice":false,"zero":false},"axis":{"title":null}}}},
    {"width":75,"height":49,"data":{"name":"s"},"mark":"point","encoding":{"x":{"field":"bottom","type":"quantitative","scale":{"domain":[6,10.1],"nice":false,"zero":false},"axis":{"title":null}},"y":{"field":"lat","type":"quantitative","scale":{"domain":[36.9195,36.9495],"nice":false,"zero":false},"axis":{"title":null}}}},
    {"width":75,"height":49,"data":{"name":"s"},"mark":"point","encoding":{"x":{"field":"len","type":"quantitative","scale":{"domain":[13.7,23.2],"nice":false,"zero":false},"axis":{"title":null}},"y":{"field":"lat","type":"quantitative","scale":{"domain":[36.9195,36.9495],"nice":false,"zero":false},"axis":{"title":null}}}},
    {"width":75,"height":49,"data":{"values":[]},"mark":"point","encoding":{}},
    {"width":75,"height":49,"data":{"values":[]},"mark":"point","encoding":{}},

    {"width":75,"height":49,"data":{"name":"s"},"mark":"point","encoding":{"x":{"field":"slip","type":"quantitative","scale":{"domain":[1.0,3.08],"nice":false,"zero":false},"axis":{"title":null}},"y":{"field":"lon","type":"quantitative","scale":{"domain":[27.4755,27.4915],"nice":false,"zero":false},"axis":{"labels":true,"values":[27.48,27.49],"labelExpr":"format(datum.value, '.2f') + '°E'","title":"经度","titleAngle":0,"titleX":-77,"titleY":17,"titleAlign":"center","titleBaseline":"middle"}}}},
    {"width":75,"height":49,"data":{"name":"s"},"mark":"point","encoding":{"x":{"field":"dip","type":"quantitative","scale":{"domain":[33.9,42.1],"nice":false,"zero":false},"axis":{"title":null}},"y":{"field":"lon","type":"quantitative","scale":{"domain":[27.4755,27.4915],"nice":false,"zero":false},"axis":{"title":null}}}},
    {"width":75,"height":49,"data":{"name":"s"},"mark":"point","encoding":{"x":{"field":"rake","type":"quantitative","scale":{"domain":[-100,-77],"nice":false,"zero":false},"axis":{"title":null}},"y":{"field":"lon","type":"quantitative","scale":{"domain":[27.4755,27.4915],"nice":false,"zero":false},"axis":{"title":null}}}},
    {"width":75,"height":49,"data":{"name":"s"},"mark":"point","encoding":{"x":{"field":"strike","type":"quantitative","scale":{"domain":[260,280.5],"nice":false,"zero":false},"axis":{"title":null}},"y":{"field":"lon","type":"quantitative","scale":{"domain":[27.4755,27.4915],"nice":false,"zero":false},"axis":{"title":null}}}},
    {"width":75,"height":49,"data":{"name":"s"},"mark":"point","encoding":{"x":{"field":"top","type":"quantitative","scale":{"domain":[1.65,3.35],"nice":false,"zero":false},"axis":{"title":null}},"y":{"field":"lon","type":"quantitative","scale":{"domain":[27.4755,27.4915],"nice":false,"zero":false},"axis":{"title":null}}}},
    {"width":75,"height":49,"data":{"name":"s"},"mark":"point","encoding":{"x":{"field":"bottom","type":"quantitative","scale":{"domain":[6,10.1],"nice":false,"zero":false},"axis":{"title":null}},"y":{"field":"lon","type":"quantitative","scale":{"domain":[27.4755,27.4915],"nice":false,"zero":false},"axis":{"title":null}}}},
    {"width":75,"height":49,"data":{"name":"s"},"mark":"point","encoding":{"x":{"field":"len","type":"quantitative","scale":{"domain":[13.7,23.2],"nice":false,"zero":false},"axis":{"title":null}},"y":{"field":"lon","type":"quantitative","scale":{"domain":[27.4755,27.4915],"nice":false,"zero":false},"axis":{"title":null}}}},
    {"width":75,"height":49,"data":{"name":"s"},"mark":"point","encoding":{"x":{"field":"lat","type":"quantitative","scale":{"domain":[36.9195,36.9495],"nice":false,"zero":false},"axis":{"title":null}},"y":{"field":"lon","type":"quantitative","scale":{"domain":[27.4755,27.4915],"nice":false,"zero":false},"axis":{"title":null}}}},
    {"width":75,"height":49,"data":{"values":[]},"mark":"point","encoding":{}},

    {"width":75,"height":49,"view":{"stroke":"#000","strokeWidth":1},"data":{"name":"h"},"transform":[{"filter":"datum.v === 'slip'"}],"mark":{"type":"bar","color":"#1c1c1c","stroke":"#888","strokeWidth":0.4},"encoding":{"x":{"field":"x0","type":"quantitative","scale":{"domain":[1.0,3.08],"nice":false,"zero":false},"axis":{"domain":false,"labels":true,"values":[1,2,3],"labelExpr":"datum.value + 'm'","labelPadding":7,"title":"滑动量","titlePadding":8}},"x2":{"field":"x1"},"y":{"field":"n","type":"quantitative","scale":{"domain":[0,21.3],"nice":false},"axis":{"domain":false,"labels":true,"values":[0,10,20],"title":"频数","titleAngle":0,"titleX":-74,"titleY":24,"titleAlign":"center","titleBaseline":"middle"}},"y2":{"datum":0}}},
    {"width":75,"height":49,"view":{"stroke":"#000","strokeWidth":1},"data":{"name":"h"},"transform":[{"filter":"datum.v === 'dip'"}],"mark":{"type":"bar","color":"#1c1c1c","stroke":"#888","strokeWidth":0.4},"encoding":{"x":{"field":"x0","type":"quantitative","scale":{"domain":[33.9,42.1],"nice":false,"zero":false},"axis":{"domain":false,"labels":true,"values":[35,40],"labelExpr":"datum.value + '°'","labelPadding":7,"title":"倾角","titlePadding":8}},"x2":{"field":"x1"},"y":{"field":"n","type":"quantitative","scale":{"domain":[0,21],"nice":false},"axis":null},"y2":{"datum":0}}},
    {"width":75,"height":49,"view":{"stroke":"#000","strokeWidth":1},"data":{"name":"h"},"transform":[{"filter":"datum.v === 'rake'"}],"mark":{"type":"bar","color":"#1c1c1c","stroke":"#888","strokeWidth":0.4},"encoding":{"x":{"field":"x0","type":"quantitative","scale":{"domain":[-100,-77],"nice":false,"zero":false},"axis":{"domain":false,"labels":true,"values":[-100,-90,-80],"labelExpr":"datum.value + '°'","labelPadding":7,"title":"滑动角","titlePadding":8}},"x2":{"field":"x1"},"y":{"field":"n","type":"quantitative","scale":{"domain":[0,41.8],"nice":false},"axis":null},"y2":{"datum":0}}},
    {"width":75,"height":49,"view":{"stroke":"#000","strokeWidth":1},"data":{"name":"h"},"transform":[{"filter":"datum.v === 'strike'"}],"mark":{"type":"bar","color":"#1c1c1c","stroke":"#888","strokeWidth":0.4},"encoding":{"x":{"field":"x0","type":"quantitative","scale":{"domain":[260,280.5],"nice":false,"zero":false},"axis":{"domain":false,"labels":true,"values":[260,270,280],"labelExpr":"datum.value + '°'","labelPadding":7,"title":"走向角","titlePadding":8}},"x2":{"field":"x1"},"y":{"field":"n","type":"quantitative","scale":{"domain":[0,36.1],"nice":false},"axis":null},"y2":{"datum":0}}},
    {"width":75,"height":49,"view":{"stroke":"#000","strokeWidth":1},"data":{"name":"h"},"transform":[{"filter":"datum.v === 'top'"}],"mark":{"type":"bar","color":"#1c1c1c","stroke":"#888","strokeWidth":0.4},"encoding":{"x":{"field":"x0","type":"quantitative","scale":{"domain":[1.65,3.35],"nice":false,"zero":false},"axis":{"domain":false,"labels":true,"values":[2,3],"labelExpr":"datum.value + 'km'","labelPadding":7,"title":"顶深","titlePadding":8}},"x2":{"field":"x1"},"y":{"field":"n","type":"quantitative","scale":{"domain":[0,21],"nice":false},"axis":null},"y2":{"datum":0}}},
    {"width":75,"height":49,"view":{"stroke":"#000","strokeWidth":1},"data":{"name":"h"},"transform":[{"filter":"datum.v === 'bottom'"}],"mark":{"type":"bar","color":"#1c1c1c","stroke":"#888","strokeWidth":0.4},"encoding":{"x":{"field":"x0","type":"quantitative","scale":{"domain":[6,10.1],"nice":false,"zero":false},"axis":{"domain":false,"labels":true,"values":[6,8,10],"labelExpr":"datum.value + 'km'","labelPadding":7,"title":"底深","titlePadding":8}},"x2":{"field":"x1"},"y":{"field":"n","type":"quantitative","scale":{"domain":[0,21],"nice":false},"axis":null},"y2":{"datum":0}}},
    {"width":75,"height":49,"view":{"stroke":"#000","strokeWidth":1},"data":{"name":"h"},"transform":[{"filter":"datum.v === 'len'"}],"mark":{"type":"bar","color":"#1c1c1c","stroke":"#888","strokeWidth":0.4},"encoding":{"x":{"field":"x0","type":"quantitative","scale":{"domain":[13.7,23.2],"nice":false,"zero":false},"axis":{"domain":false,"labels":true,"values":[15,20],"labelExpr":"datum.value + 'km'","labelPadding":7,"title":"长度","titlePadding":8}},"x2":{"field":"x1"},"y":{"field":"n","type":"quantitative","scale":{"domain":[0,21],"nice":false},"axis":null},"y2":{"datum":0}}},
    {"width":75,"height":49,"view":{"stroke":"#000","strokeWidth":1},"data":{"name":"h"},"transform":[{"filter":"datum.v === 'lat'"}],"mark":{"type":"bar","color":"#1c1c1c","stroke":"#888","strokeWidth":0.4},"encoding":{"x":{"field":"x0","type":"quantitative","scale":{"domain":[36.9195,36.9495],"nice":false,"zero":false},"axis":{"domain":false,"labels":true,"values":[36.92,36.94],"labelExpr":"format(datum.value, '.2f') + '°N'","labelPadding":7,"title":"纬度","titlePadding":8}},"x2":{"field":"x1"},"y":{"field":"n","type":"quantitative","scale":{"domain":[0,21],"nice":false},"axis":null},"y2":{"datum":0}}},
    {"width":75,"height":49,"view":{"stroke":"#000","strokeWidth":1},"data":{"name":"h"},"transform":[{"filter":"datum.v === 'lon'"}],"mark":{"type":"bar","color":"#1c1c1c","stroke":"#888","strokeWidth":0.4},"encoding":{"x":{"field":"x0","type":"quantitative","scale":{"domain":[27.4755,27.4915],"nice":false,"zero":false},"axis":{"domain":false,"labels":true,"values":[27.48,27.49],"labelExpr":"format(datum.value, '.2f') + '°E'","labelPadding":7,"title":"经度","titlePadding":8}},"x2":{"field":"x1"},"y":{"field":"n","type":"quantitative","scale":{"domain":[0,20],"nice":false},"axis":null},"y2":{"datum":0}}}
  ]
}
